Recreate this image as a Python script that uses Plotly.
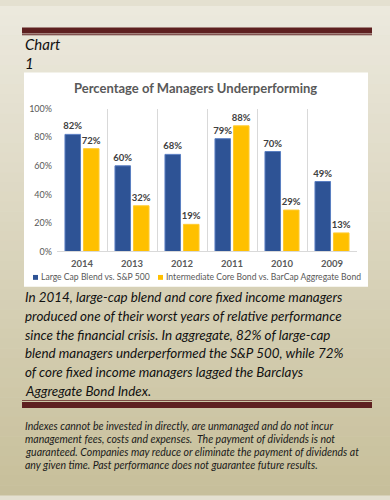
import plotly.graph_objects as go

W, H = 390, 500

years = ["2014", "2013", "2012", "2011", "2010", "2009"]
large_cap = [82, 60, 68, 79, 70, 49]
core_bond = [72, 32, 19, 88, 29, 13]
series_names = ["Large Cap Blend vs. S&P 500",
                "Intermediate Core Bond vs. BarCap Aggregate Bond"]
y_ticks = [0, 20, 40, 60, 80, 100]
y_tick_labels = ["0%", "20%", "40%", "60%", "80%", "100%"]

title = "Percentage of Managers Underperforming"
paragraph = [
    "In 2014, large-cap blend and core fixed income managers",
    "produced one of their worst years of relative performance",
    "since the financial crisis. In aggregate, 82% of large-cap",
    "blend managers underperformed the S&P 500, while 72%",
    "of core fixed income managers lagged the Barclays",
    "Aggregate Bond Index.",
]
disclaimer = [
    "Indexes cannot be invested in directly, are unmanaged and do not incur",
    "management fees, costs and expenses.  The payment of dividends is not",
    "guaranteed. Companies may reduce or eliminate the payment of dividends at",
    "any given time. Past performance does not guarantee future results.",
]

FONT = "Lato"
BLUE = "#2E5395"
YELLOW = "#FFC000"
COLORS = [BLUE, YELLOW]
RULE = "#5E2020"


def px(x):
    return x / W


def py(y):
    return 1 - y / H


fig = go.Figure()
label_font = dict(family=FONT, size=9.5, color="#404040", weight="bold")
fig.add_trace(go.Bar(x=years, y=large_cap, name=series_names[0],
                     marker=dict(color=BLUE, line=dict(color="#5A7EC2", width=1)),
                     text=[f"{v}%" for v in large_cap], textposition="outside",
                     constraintext="none",
                     textfont=label_font, cliponaxis=False, showlegend=False))
fig.add_trace(go.Bar(x=years, y=core_bond, name=series_names[1],
                     marker=dict(color=YELLOW, line=dict(color="#FFCB33", width=1)),
                     text=[f"{v}%" for v in core_bond], textposition="outside",
                     constraintext="none",
                     textfont=label_font, cliponaxis=False, showlegend=False))

shapes = []
# gradient background
top = (236, 233, 222)
bot = (199, 191, 154)
N = 50
for i in range(N):
    t = (i + 0.5) / N
    c = tuple(round(top[k] + (bot[k] - top[k]) * t) for k in range(3))
    shapes.append(dict(type="rect", xref="paper", yref="paper", x0=0, x1=1,
                       y0=1 - (i + 1) / N - 0.001, y1=1 - i / N,
                       fillcolor="rgb(%d,%d,%d)" % c, line=dict(width=0), layer="below"))
# white chart box
shapes.append(dict(type="rect", xref="paper", yref="paper", x0=px(24), x1=px(368),
                   y0=py(287), y1=py(68), fillcolor="white", line=dict(width=0), layer="below"))
# rules
for (a, b) in [(22, 28), (29, 30), (403, 404), (405, 411)]:
    shapes.append(dict(type="rect", xref="paper", yref="paper", x0=px(22), x1=px(372),
                       y0=py(b), y1=py(a), fillcolor=RULE, line=dict(width=0), layer="above"))

ann = []
# manual legend
leg_x = [33, 158]
for i, name in enumerate(series_names):
    shapes.append(dict(type="rect", xref="paper", yref="paper",
                       x0=px(leg_x[i]), x1=px(leg_x[i] + 5), y0=py(280), y1=py(275),
                       fillcolor=COLORS[i], line=dict(width=0)))
    ann.append(dict(text=name, x=px(leg_x[i] + 6), y=py(277.5), xanchor="left", yanchor="middle",
                    font=dict(family=FONT, size=8.6, color="#595959")))

ann.append(dict(text="<i>Chart</i>", x=px(23), y=py(39), xanchor="left", yanchor="middle",
                font=dict(family=FONT, size=15, color="#111111")))
ann.append(dict(text="<i>1</i>", x=px(23), y=py(58), xanchor="left", yanchor="middle",
                font=dict(family=FONT, size=15, color="#111111")))
ann.append(dict(text="<b>" + title + "</b>", x=px(195), y=py(84), xanchor="center", yanchor="middle",
                font=dict(family=FONT, size=13, color="#595959")))
for i, line in enumerate(paragraph):
    ann.append(dict(text="<i>" + line + "</i>", x=px(23), y=py(298 + i * 19.1),
                    xanchor="left", yanchor="middle",
                    font=dict(family=FONT, size=13.4, color="#111111")))
for i, line in enumerate(disclaimer):
    ann.append(dict(text="<i>" + line + "</i>", x=px(23), y=py(429 + i * 13.5),
                    xanchor="left", yanchor="middle",
                    font=dict(family=FONT, size=10.5, color="#1a1a1a")))
for a in ann:
    a.update(xref="paper", yref="paper", showarrow=False)

fig.update_layout(
    width=W, height=H,
    margin=dict(l=0, r=0, t=0, b=0),
    paper_bgcolor="#E4E0D0", plot_bgcolor="rgba(0,0,0,0)",
    barmode="group", bargap=0.26, bargroupgap=0.16,
    shapes=shapes, annotations=ann,
    showlegend=False,
    xaxis=dict(domain=[px(57), px(357)], type="category", tickson="boundaries",
               showgrid=True, gridcolor="#D9D9D9", gridwidth=1,
               showline=True, linecolor="#D9D9D9", ticks="",
               tickfont=dict(family=FONT, size=9.5, color="#595959", weight="bold"),
               ticklabelstandoff=3, fixedrange=True),
    yaxis=dict(domain=[py(251), py(105)], range=[0, 100], tickmode="array",
               tickvals=y_ticks, ticktext=y_tick_labels,
               showgrid=False, zeroline=False, showline=False,
               tickfont=dict(family=FONT, size=9, color="#595959"), ticklabelstandoff=4,
               fixedrange=True),
)

fig.write_html("out.html")
